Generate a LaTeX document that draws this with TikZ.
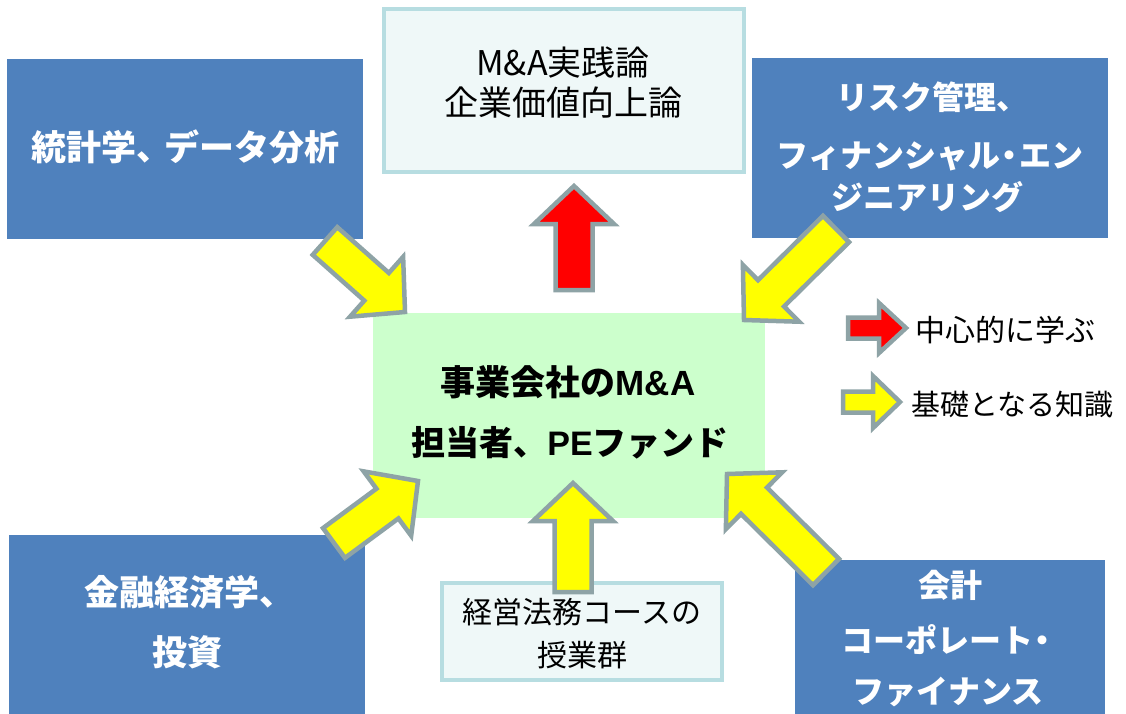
\documentclass[tikz,border=0pt]{standalone}
\usepackage{fontspec}
\setmainfont{Noto Sans CJK JP}
\newfontfamily\latinsans{Liberation Sans}
\usetikzlibrary{calc}
\definecolor{boxblue}{HTML}{4F81BD}
\definecolor{centergreen}{HTML}{CCFFCC}
\definecolor{lightfill}{HTML}{EFF8F8}
\definecolor{lightborder}{HTML}{B7DDE1}
\definecolor{arrowgray}{HTML}{8EA3A6}
\definecolor{arrowyellow}{HTML}{FFFF00}
\definecolor{arrowred}{HTML}{FF0000}
\newcommand\toucomma{、\kern-0.2em}
\newcommand\midpoint{\kern-0.2em・\kern-0.2em}
\tikzset{
  bluebox/.style={fill=boxblue, inner sep=0pt, outer sep=0pt},
  greenbox/.style={fill=centergreen, inner sep=0pt, outer sep=0pt},
  lightbox/.style={fill=lightfill, draw=lightborder, line width=4pt, inner sep=0pt, outer sep=0pt},
  whitetext/.style={text=white, inner sep=0pt, font=\bfseries\fontsize{#1}{#1}\selectfont},
  blacktext/.style={text=black, inner sep=0pt, font=\fontsize{#1}{#1}\selectfont},
  boldtext/.style={text=black, inner sep=0pt, font=\bfseries\fontsize{#1}{#1}\selectfont},
  fatarrowstyle/.style={draw=arrowgray, line width=4.5pt, line join=miter, miter limit=10},
}
% #1 tail, #2 tip, #3 fill, #4 shaft half width, #5 head half width, #6 head length
\newcommand\fatarrow[6]{%
  \coordinate (neck-#1) at ($(#2)!#6!(#1)$);
  \draw[fatarrowstyle, fill=#3]
    ($(#1)!#4!90:(#2)$) -- ($(neck-#1)!#4!90:(#2)$) -- ($(neck-#1)!#5!90:(#2)$)
    -- (#2) -- ($(neck-#1)!#5!-90:(#2)$) -- ($(neck-#1)!#4!-90:(#2)$)
    -- ($(#1)!#4!-90:(#2)$) -- cycle;
}
\begin{document}
\begin{tikzpicture}[x=1pt, y=-1pt]
\useasboundingbox (0,0) rectangle (1126,714);
\fill[white] (0,0) rectangle (1126,714);

% boxes
\node[lightbox, minimum width=360pt, minimum height=163pt] (top) at (564,90.5) {};
\node[bluebox, minimum width=356pt, minimum height=180pt] (tl) at (185,149) {};
\node[bluebox, minimum width=356pt, minimum height=180pt] (tr) at (930,148) {};
\node[greenbox, minimum width=392pt, minimum height=205pt] (center) at (569,415.5) {};
\node[bluebox, minimum width=356pt, minimum height=179pt] (bl) at (187,624.5) {};
\node[bluebox, minimum width=310pt, minimum height=154pt] (br) at (950,637) {};
\node[lightbox, minimum width=280pt, minimum height=97pt] (bc) at (582,631.5) {};

% arrow end points
\coordinate (a1t) at (325,241);  \coordinate (a1p) at (405,312);
\coordinate (a2t) at (836,229);  \coordinate (a2p) at (744,320);
\coordinate (a3t) at (334,543);  \coordinate (a3p) at (418,481);
\coordinate (a4t) at (573,592);  \coordinate (a4p) at (573,483);
\coordinate (a5t) at (826,572);  \coordinate (a5p) at (727,474);
\coordinate (a6t) at (574,290);  \coordinate (a6p) at (574,186);
\coordinate (l1t) at (848,328);  \coordinate (l1p) at (906,328);
\coordinate (l2t) at (843,402);  \coordinate (l2p) at (900,402);

\fatarrow{a1t}{a1p}{arrowyellow}{18.5pt}{40pt}{38pt}
\fatarrow{a2t}{a2p}{arrowyellow}{18.5pt}{40pt}{38pt}
\fatarrow{a3t}{a3p}{arrowyellow}{18.5pt}{40pt}{38pt}
\fatarrow{a4t}{a4p}{arrowyellow}{18.5pt}{40pt}{38pt}
\fatarrow{a5t}{a5p}{arrowyellow}{18.5pt}{40pt}{38pt}
\fatarrow{a6t}{a6p}{arrowred}{18.5pt}{40pt}{38pt}
\fatarrow{l1t}{l1p}{arrowred}{10.5pt}{25pt}{27pt}
\fatarrow{l2t}{l2p}{arrowyellow}{10.5pt}{26pt}{27pt}

% texts
\node[blacktext=34] (top1) at (563,63) {M\&A実践論};
\node[blacktext=34] (top2) at (563,103) {企業価値向上論};

\node[whitetext=35] (tl1) at (185,147) {統計学\toucomma データ分析};

\node[whitetext=32] (tr1) at (932,97) {リスク管理、};
\node[whitetext=32] (tr2) at (930,156) {フィナンシャル\midpoint エン};
\node[whitetext=32] (tr3) at (927,197) {ジニアリング};

\node[boldtext=35] (c1) at (568,382) {事業会社の{\latinsans\bfseries M\&A}};
\node[boldtext=34] (c2) at (570,443) {担当者、{\latinsans\bfseries PE}ファンド};

\node[whitetext=35] (bl1) at (189,592) {金融経済学、};
\node[whitetext=35] (bl2) at (187,652) {投資};

\node[blacktext=30] (bc1) at (582,612) {経営法務コースの};
\node[blacktext=30] (bc2) at (582,655) {授業群};

\node[whitetext=32] (br1) at (950,585) {会計};
\node[whitetext=32] (br2) at (950,640) {コーポレート\kern-0.2em・};
\node[whitetext=32] (br3) at (948,692) {ファイナンス};

\node[blacktext=30, anchor=west] (lg1) at (915,330) {中心的に学ぶ};
\node[blacktext=29, anchor=west] (lg2) at (911,405) {基礎となる知識};
\end{tikzpicture}
\end{document}
